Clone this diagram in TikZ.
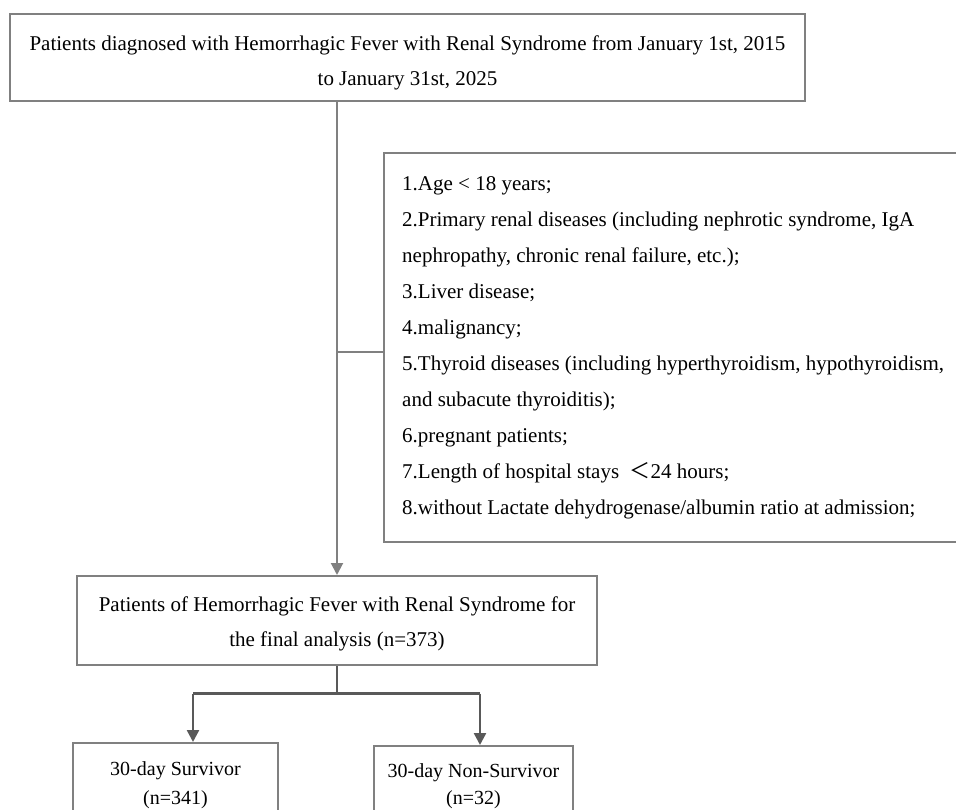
\documentclass[tikz,border=0pt]{standalone}
\usepackage{fontspec}
\setmainfont{Liberation Serif}
\newfontfamily\cjkfont{Noto Sans CJK SC}
\usetikzlibrary{arrows.meta}
\definecolor{boxgray}{HTML}{808080}
\definecolor{darkline}{HTML}{595959}
\begin{document}
\begin{tikzpicture}[x=1pt,y=-1pt,
  box/.style={draw=boxgray, line width=2pt, inner sep=0pt},
  txt/.style={inner sep=0pt, align=center, font=\fontsize{21}{35}\selectfont},
  lightconn/.style={draw=boxgray, line width=2pt},
  darkconn/.style={draw=darkline, line width=2.5pt},
  tip/.style={-{Triangle[width=12pt,length=12pt]}}
]
\useasboundingbox (0,0) rectangle (956,810);
\fill[white] (0,0) rectangle (956,810);

% boxes
\node[box, minimum width=795pt, minimum height=87pt] (top) at (407.5,57.5) {};
\node[box, anchor=north west, minimum width=590pt, minimum height=389pt] (excl) at (383,152) {};
\node[box, minimum width=520pt, minimum height=89pt] (final) at (337,620.5) {};
\node[box, minimum width=205pt, minimum height=81pt] (surv) at (175.5,783.5) {};
\node[box, minimum width=199pt, minimum height=77pt] (non) at (473.5,784.5) {};

% texts
\node[txt] (toptext) at (407.5,62.5)
  {Patients diagnosed with Hemorrhagic Fever with Renal Syndrome from January 1st, 2015\\
   to January 31st, 2025};
\node[txt, align=left, font=\fontsize{21}{36}\selectfont, anchor=west] (excltext) at (402,348)
  {1.Age {\textless} 18 years;\\
   2.Primary renal diseases (including nephrotic syndrome, IgA\\
   nephropathy, chronic renal failure, etc.);\\
   3.Liver disease;\\
   4.malignancy;\\
   5.Thyroid diseases (including hyperthyroidism, hypothyroidism,\\
   and subacute thyroiditis);\\
   6.pregnant patients;\\
   7.Length of hospital stays \ {\cjkfont ＜}24 hours;\\
   8.without Lactate dehydrogenase/albumin ratio at admission;};
\node[txt] (finaltext) at (337,623.5)
  {Patients of Hemorrhagic Fever with Renal Syndrome for\\
   the final analysis (n=373)};
\node[txt, font=\fontsize{20}{29}\selectfont] (survtext) at (175.5,785.5)
  {30-day Survivor\\(n=341)};
\node[txt, font=\fontsize{20}{27}\selectfont] (nontext) at (473.5,786)
  {30-day Non-Survivor\\(n=32)};

% top connector with exclusion branch
\draw[lightconn, tip] (top.south -| final.north) -- (final.north);
\draw[lightconn] (final.north |- 0,352) -- (excl.west |- 0,352);

% split to outcomes
\coordinate (sl) at (193,693.5);
\coordinate (sr) at (480,693.5);
\draw[darkconn] (final.south) -- (final.south |- sl);
\draw[darkconn] (sl) -- (sr);
\draw[darkconn, tip] (sl) -- (sl |- surv.north);
\draw[darkconn, tip] (sr) -- (sr |- non.north);
\end{tikzpicture}
\end{document}
